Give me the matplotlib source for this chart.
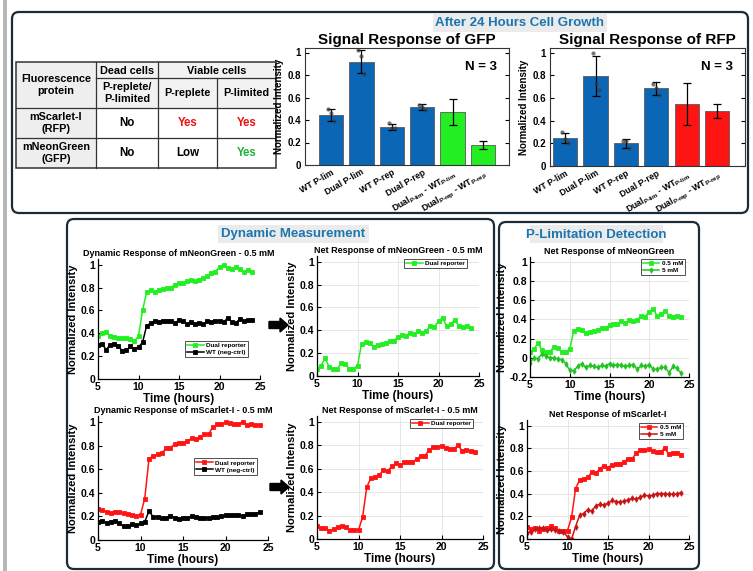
import matplotlib
matplotlib.use('Agg')
import matplotlib.pyplot as plt
from matplotlib.patches import FancyBboxPatch, Rectangle, FancyArrow
import numpy as np

W, H = 753, 571
plt.rcParams['font.family'] = ['Liberation Sans', 'DejaVu Sans']
plt.rcParams['font.weight'] = 'bold'
plt.rcParams['axes.labelweight'] = 'bold'
plt.rcParams['axes.titleweight'] = 'bold'
plt.rcParams['mathtext.fontset'] = 'custom'
plt.rcParams['mathtext.rm'] = 'Liberation Sans:bold'
plt.rcParams['mathtext.it'] = 'Liberation Sans:bold'
plt.rcParams['mathtext.bf'] = 'Liberation Sans:bold'
plt.rcParams['mathtext.default'] = 'rm'

# ---------------- data ----------------
bar_labels = ['WT P-lim', 'Dual P-lim', 'WT P-rep', 'Dual P-rep',
              r'Dual$_{\text{P-lim}}$ - WT$_{\text{P-lim}}$',
              r'Dual$_{\text{P-rep}}$ - WT$_{\text{P-rep}}$']
gfp_means = [0.445, 0.92, 0.34, 0.515, 0.475, 0.175]
gfp_sd = [0.055, 0.105, 0.025, 0.025, 0.115, 0.035]
gfp_points = [[0.50, 0.46, 0.39], [1.02, 0.97, 0.81], [0.37, 0.33, 0.33], [0.53, 0.52, 0.49]]
rfp_means = [0.25, 0.795, 0.20, 0.685, 0.545, 0.485]
rfp_sd = [0.045, 0.175, 0.04, 0.055, 0.185, 0.065]
rfp_points = [[0.30, 0.24, 0.20], [1.00, 0.72, 0.67], [0.22, 0.22, 0.16], [0.72, 0.69, 0.63]]

time_h = [5, 5.5, 6, 6.5, 7, 7.5, 8, 8.5, 9, 9.5, 10, 10.5, 11, 11.5, 12, 12.5, 13, 13.5,
          14, 14.5, 15, 15.5, 16, 16.5, 17, 17.5, 18, 18.5, 19, 19.5, 20, 20.5, 21, 21.5,
          22, 22.5, 23, 23.5, 24]

green_dual = [0.375, 0.40, 0.41, 0.38, 0.37, 0.355, 0.36, 0.355, 0.35, 0.33, 0.375, 0.60,
              0.76, 0.78, 0.765, 0.775, 0.79, 0.80, 0.80, 0.825, 0.84, 0.84, 0.855, 0.865,
              0.855, 0.87, 0.88, 0.90, 0.93, 0.94, 0.98, 1.00, 0.97, 0.96, 0.98, 0.96,
              0.935, 0.955, 0.94]
green_wt = [0.30, 0.31, 0.255, 0.30, 0.31, 0.29, 0.245, 0.25, 0.285, 0.265, 0.28, 0.32,
            0.465, 0.49, 0.505, 0.50, 0.51, 0.51, 0.51, 0.49, 0.515, 0.505, 0.48, 0.50,
            0.48, 0.49, 0.48, 0.505, 0.50, 0.505, 0.505, 0.495, 0.535, 0.50, 0.49, 0.525,
            0.505, 0.52, 0.52]
green_net_05 = [0.065, 0.09, 0.155, 0.08, 0.06, 0.06, 0.115, 0.105, 0.06, 0.065, 0.09, 0.28,
                0.30, 0.29, 0.255, 0.27, 0.28, 0.29, 0.31, 0.31, 0.34, 0.355, 0.35, 0.38,
                0.365, 0.39, 0.38, 0.395, 0.44, 0.43, 0.48, 0.51, 0.435, 0.455, 0.49, 0.44,
                0.43, 0.435, 0.42]
green_net_5 = [-0.05, 0.0, -0.01, 0.04, 0.02, 0.0, 0.0, -0.01, -0.02, -0.06, -0.13, -0.135,
               -0.09, -0.06, -0.10, -0.08, -0.09, -0.10, -0.08, -0.09, -0.06, -0.08, -0.07,
               -0.08, -0.09, -0.08, -0.07, -0.12, -0.08, -0.09, -0.07, -0.12, -0.12, -0.10,
               -0.10, -0.155, -0.09, -0.11, -0.16]
red_dual = [0.265, 0.25, 0.24, 0.225, 0.24, 0.235, 0.23, 0.22, 0.21, 0.20, 0.215, 0.35,
            0.69, 0.71, 0.725, 0.735, 0.775, 0.78, 0.81, 0.82, 0.82, 0.835, 0.86, 0.855,
            0.87, 0.895, 0.895, 0.955, 0.98, 0.98, 1.0, 0.99, 0.98, 0.98, 1.0, 0.97, 0.98,
            0.975, 0.975]
red_wt = [0.155, 0.16, 0.145, 0.155, 0.16, 0.14, 0.115, 0.12, 0.135, 0.125, 0.14, 0.155,
          0.245, 0.195, 0.195, 0.19, 0.185, 0.20, 0.19, 0.175, 0.19, 0.19, 0.20, 0.195,
          0.19, 0.19, 0.185, 0.195, 0.195, 0.20, 0.21, 0.21, 0.21, 0.21, 0.205, 0.22, 0.22,
          0.22, 0.235]
red_net_05 = [0.11, 0.09, 0.095, 0.07, 0.085, 0.10, 0.115, 0.10, 0.075, 0.075, 0.075, 0.19,
              0.445, 0.52, 0.53, 0.545, 0.59, 0.58, 0.62, 0.645, 0.63, 0.655, 0.66, 0.66,
              0.68, 0.71, 0.71, 0.76, 0.785, 0.785, 0.79, 0.78, 0.77, 0.77, 0.80, 0.75, 0.76,
              0.755, 0.745]
red_net_5 = [0.055, 0.06, 0.09, 0.10, 0.095, 0.08, 0.09, 0.08, 0.07, 0.06, 0.02, 0.0, 0.11,
             0.21, 0.225, 0.26, 0.245, 0.295, 0.305, 0.30, 0.315, 0.34, 0.33, 0.325, 0.335,
             0.345, 0.36, 0.35, 0.37, 0.385, 0.38, 0.385, 0.40, 0.40, 0.40, 0.395, 0.395,
             0.395, 0.41]

# ---------------- styles ----------------
BLUE = '#0b66b5'
GREEN = '#22ee22'
GREEN5 = '#22c422'
RED = '#ff1414'
RED5 = '#c81414'
NAVY = '#1c2b3a'
TITLEBLUE = '#1b75b0'

fig = plt.figure(figsize=(W / 100, H / 100), dpi=100)
fig.patch.set_facecolor('white')
ov = fig.add_axes([0, 0, 1, 1])
ov.set_xlim(0, W)
ov.set_ylim(H, 0)
ov.axis('off')

ov.add_patch(Rectangle((3, 0), 4, H, fc='#b8b8b8', ec='none'))


def box(x0, y0, x1, y1):
    ov.add_patch(FancyBboxPatch((x0, y0), x1 - x0, y1 - y0,
                                boxstyle='round,pad=0,rounding_size=7',
                                fc='none', ec=NAVY, lw=1.6))


def section(x0, y0, x1, y1, txt):
    ov.add_patch(Rectangle((x0, y0), x1 - x0, y1 - y0, fc='#ebebeb', ec='none'))
    ov.text((x0 + x1) / 2, (y0 + y1) / 2 + 0.5, txt, color=TITLEBLUE, fontsize=9.5,
            ha='center', va='center', fontweight='bold')


box(12, 12, 748, 213)
box(67, 219, 494, 569)
box(499, 222, 699, 569)
section(433, 14, 607, 32, 'After 24 Hours Cell Growth')
section(218, 225, 369, 243, 'Dynamic Measurement')
section(530, 225, 663, 243, 'P-Limitation Detection')

# ---------------- table ----------------
tx0, tx1, tx2, tx3, tx4 = 16, 96, 158, 217, 276
ty0, ty1, ty2, ty3, ty4 = 62, 78, 108, 138, 168
ov.add_patch(Rectangle((tx0, ty0), tx4 - tx0, ty4 - ty0, fc='white', ec='none'))
ov.add_patch(Rectangle((tx0, ty0), tx1 - tx0, ty4 - ty0, fc='#eeeeee', ec='none'))
ov.add_patch(Rectangle((tx1, ty0), tx4 - tx1, ty2 - ty0, fc='#f2f2f2', ec='none'))
lc = '#333333'
ov.add_patch(Rectangle((tx0, ty0), tx4 - tx0, ty4 - ty0, fc='none', ec=lc, lw=1.1))
for xv, ya in [(tx1, ty0), (tx2, ty0), (tx3, ty1)]:
    ov.plot([xv, xv], [ya, ty4], color=lc, lw=0.9)
for yv, xa in [(ty1, tx1), (ty2, tx0), (ty3, tx0)]:
    ov.plot([xa, tx4], [yv, yv], color=lc, lw=0.9)

c1, c2, c3, c4 = (tx0 + tx1) / 2, (tx1 + tx2) / 2, (tx2 + tx3) / 2, (tx3 + tx4) / 2
tfs = 7.8
cells = [
    (c1, (ty0 + ty2) / 2, 'Fluorescence\nprotein', 'black'),
    (c2, (ty0 + ty1) / 2, 'Dead cells', 'black'),
    ((tx2 + tx4) / 2, (ty0 + ty1) / 2, 'Viable cells', 'black'),
    (c2, (ty1 + ty2) / 2, 'P-replete/\nP-limited', 'black'),
    (c3, (ty1 + ty2) / 2, 'P-replete', 'black'),
    (c4, (ty1 + ty2) / 2, 'P-limited', 'black'),
    (c1, (ty2 + ty3) / 2, 'mScarlet-I\n(RFP)', 'black'),
    (c1, (ty3 + ty4) / 2, 'mNeonGreen\n(GFP)', 'black'),
]
for x, y, s, c in cells:
    ov.text(x, y + 0.5, s, ha='center', va='center', fontsize=tfs, color=c,
            linespacing=1.25, fontweight='bold')
vals = [
    (c2, (ty2 + ty3) / 2, 'No', 'black'), (c3, (ty2 + ty3) / 2, 'Yes', '#ee1111'),
    (c4, (ty2 + ty3) / 2, 'Yes', '#ee1111'),
    (c2, (ty3 + ty4) / 2, 'No', 'black'), (c3, (ty3 + ty4) / 2, 'Low', 'black'),
    (c4, (ty3 + ty4) / 2, 'Yes', '#1fb03c'),
]
for x, y, s, c in vals:
    ov.text(x, y + 0.5, s, ha='center', va='center', fontsize=8.3, color=c, fontweight='bold')

# arrows
ov.add_patch(FancyArrow(269, 325, 19, 0, width=7, head_width=14, head_length=8,
                        length_includes_head=True, color='black'))
ov.add_patch(FancyArrow(270, 487, 19, 0, width=7, head_width=14, head_length=8,
                        length_includes_head=True, color='black'))


def ax_px(x0, y0, x1, y1):
    return fig.add_axes([x0 / W, 1 - y1 / H, (x1 - x0) / W, (y1 - y0) / H])


# ---------------- bar charts ----------------
jitter = [-0.1, 0.0, 0.1]


def barchart(rect, means, sds, pts, colors, title, xlim):
    ax = ax_px(*rect)
    x = np.arange(1, 7)
    ax.bar(x, means, width=0.8, color=colors, edgecolor='#5a5a5a', linewidth=0.6, zorder=2)
    ax.errorbar(x, means, yerr=sds, fmt='none', ecolor='black', elinewidth=0.9,
                capsize=3, capthick=0.9, zorder=3)
    for i, p in enumerate(pts):
        ax.scatter(x[i] + np.array(jitter), p, s=9, color='#3a3a3a', alpha=0.7, lw=0, zorder=4)
    ax.set_ylim(0, 1.04)
    ax.set_xlim(*xlim)
    ax.set_yticks([0, 0.2, 0.4, 0.6, 0.8, 1])
    ax.set_yticklabels(['0', '0.2', '0.4', '0.6', '0.8', '1'])
    ax.tick_params(axis='y', direction='in', right=True, length=3, labelsize=7, pad=3)
    ax.tick_params(axis='x', direction='in', length=2, labelsize=6.3, pad=2)
    ax.set_xticks(x)
    ax.set_xticklabels(bar_labels, rotation=30, ha='right', rotation_mode='anchor')
    ax.set_title(title, fontsize=11, pad=3)
    ax.set_ylabel('Normalized Intensity', fontsize=7, labelpad=2)
    ax.text(0.94, 0.81, 'N = 3', transform=ax.transAxes, ha='right', fontsize=9.5,
            fontweight='bold')
    for s in ax.spines.values():
        s.set_linewidth(0.8)
        s.set_color('#333333')


barchart((305, 48, 509, 165), gfp_means, gfp_sd, gfp_points,
         [BLUE] * 4 + [GREEN] * 2, 'Signal Response of GFP', (0.15, 6.85))
barchart((550, 48, 745, 166), rfp_means, rfp_sd, rfp_points,
         [BLUE] * 4 + [RED] * 2, 'Signal Response of RFP', (0.5, 6.92))


# ---------------- line charts ----------------
def lineplot(rect, series, title, ylim, yticks, grid, leg_loc, leg_anchor, show_xlabel=True):
    ax = ax_px(*rect)
    for y, color, marker, label in series:
        ax.plot(time_h, y, color=color, marker=marker, ms=2.8, lw=1.1, label=label,
                markeredgewidth=0.6)
    ax.set_xlim(5, 25)
    ax.set_ylim(*ylim)
    ax.set_xticks([5, 10, 15, 20, 25])
    ax.set_yticks(yticks)
    ax.set_yticklabels([('%g' % v) for v in yticks])
    ax.tick_params(direction='in', length=3, labelsize=7.5, pad=2)
    for side in ('top', 'right'):
        ax.spines[side].set_visible(False)
    for side in ('left', 'bottom'):
        ax.spines[side].set_linewidth(0.9)
    if grid:
        ax.grid(True, color='#e2e2e2', lw=0.6)
        ax.set_axisbelow(True)
    ax.set_title(title, fontsize=6.5, pad=2.5)
    ax.set_ylabel('Normalized Intensity', fontsize=8, labelpad=2)
    if show_xlabel:
        ax.set_xlabel('Time (hours)', fontsize=8.5, labelpad=1)
    leg = ax.legend(loc=leg_loc, bbox_to_anchor=leg_anchor, fontsize=4.6, frameon=True,
                    fancybox=False, edgecolor='black', handlelength=2.6, borderpad=0.3,
                    labelspacing=0.25, handletextpad=0.4, borderaxespad=0)
    leg.get_frame().set_linewidth(0.6)
    return ax


lineplot((98, 259, 260, 379),
         [(green_dual, GREEN, 's', 'Dual reporter'), (green_wt, 'black', 's', 'WT (neg-ctrl)')],
         'Dynamic Response of mNeonGreen - 0.5 mM', (0, 1.05), [0, 0.2, 0.4, 0.6, 0.8, 1],
         False, 'lower right', (0.926, 0.18))
lineplot((317, 256, 479, 376), [(green_net_05, GREEN, 's', 'Dual reporter')],
         'Net Response of mNeonGreen - 0.5 mM', (0, 1.05), [0, 0.2, 0.4, 0.6, 0.8, 1],
         True, 'upper right', (0.926, 0.975))
lineplot((98, 416, 268, 540),
         [(red_dual, RED, 's', 'Dual reporter'), (red_wt, 'black', 's', 'WT (neg-ctrl)')],
         'Dynamic Response of mScarlet-I - 0.5 mM', (0, 1.05), [0, 0.2, 0.4, 0.6, 0.8, 1],
         False, 'upper right', (0.935, 0.66))
lineplot((317, 416, 483, 539), [(red_net_05, RED, 's', 'Dual reporter')],
         'Net Response of mScarlet-I - 0.5 mM', (0, 1.05), [0, 0.2, 0.4, 0.6, 0.8, 1],
         True, 'upper right', (0.94, 0.976))
lineplot((530, 257, 689, 377),
         [(green_net_05, GREEN, 's', '0.5 mM'), (green_net_5, GREEN5, 'd', '5 mM')],
         'Net Response of mNeonGreen', (-0.2, 1.05), [-0.2, 0, 0.2, 0.4, 0.6, 0.8, 1],
         True, 'upper right', (0.975, 0.983))
lineplot((527, 420, 689, 539),
         [(red_net_05, RED, 's', '0.5 mM'), (red_net_5, RED5, 'd', '5 mM')],
         'Net Response of mScarlet-I', (0, 1.05), [0, 0.2, 0.4, 0.6, 0.8, 1],
         True, 'upper right', (0.963, 0.975))

fig.savefig('out.png', dpi=100, facecolor='white')
